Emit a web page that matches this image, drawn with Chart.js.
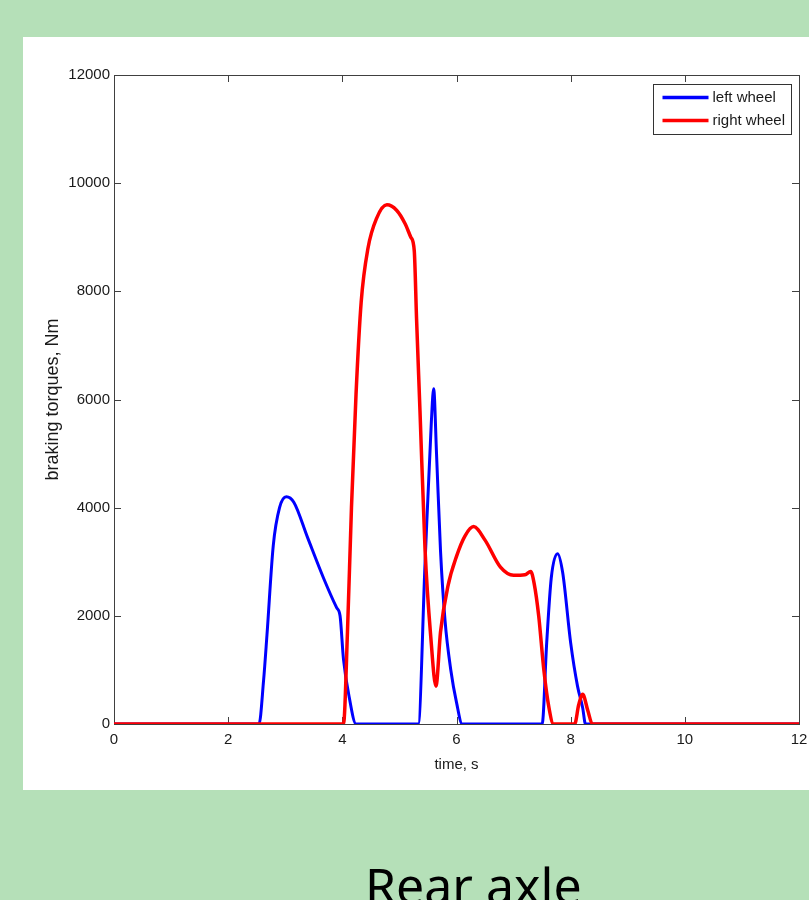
<!DOCTYPE html>
<html>
<head>
<meta charset="utf-8">
<title>Rear axle</title>
<script src="https://cdn.jsdelivr.net/npm/chart.js@4"></script>
<style>
    html, body {
        margin: 0;
        padding: 0;
        width: 809px;
        height: 900px;
        overflow: hidden;
        background: #b5e0b8;
    }
    #panel {
        position: absolute;
        left: 23px;
        top: 37px;
        width: 786px;
        height: 753px;
        background: #ffffff;
    }
    #torque-chart {
        display: block;
    }
    #caption {
        position: absolute;
        left: 365px;
        top: 860px;
        font-family: "Noto Sans", "Open Sans", sans-serif;
        font-size: 50px;
        line-height: 50px;
        color: #000;
        white-space: nowrap;
    }
</style>
</head>
<body>
<div id="panel"><canvas id="torque-chart" width="786" height="753"></canvas></div>
<div id="caption">Rear axle</div>

<script>
// Braking torque samples (time in s, torque in Nm)
const leftWheelTime = [0, 2.54, 2.62, 2.68, 2.79, 2.9, 3.02, 3.15, 3.39, 3.67, 3.9, 3.96, 4.02, 4.12, 4.24,
    5.33, 5.45, 5.56, 5.6, 5.65, 5.72, 5.8, 5.9, 6.0, 6.1, 7.5, 7.58, 7.66, 7.77, 7.86, 8.0, 8.12, 8.21, 8.26, 12];
const leftWheelTorque = [0, 0, 800, 1650, 3300, 4000, 4200, 4100, 3450, 2700, 2150, 2000, 1200, 500, 0,
    0, 3000, 5600, 6200, 5000, 3200, 1900, 1000, 400, 0, 0, 1500, 2700, 3150, 2800, 1500, 700, 300, 0, 0];

const rightWheelTime = [0, 4.02, 4.09, 4.16, 4.24, 4.33, 4.45, 4.6, 4.78, 4.95, 5.1, 5.2, 5.26, 5.3, 5.36, 5.45,
    5.55, 5.64, 5.72, 5.85, 6.0, 6.15, 6.3, 6.5, 6.77, 7.0, 7.2, 7.3, 7.36, 7.44, 7.53, 7.62, 7.7,
    8.07, 8.14, 8.21, 8.3, 8.38, 12];
const rightWheelTorque = [0, 0, 1700, 4000, 6100, 7800, 8800, 9350, 9600, 9500, 9250, 9000, 8750, 7500, 5800, 3200,
    1600, 700, 1700, 2550, 3100, 3480, 3650, 3400, 2900, 2750, 2760, 2820, 2600, 2000, 1000, 300, 0,
    0, 350, 550, 250, 0, 0];

const seriesLabels = ['left wheel', 'right wheel'];
const xTicks = [0, 2, 4, 6, 8, 10, 12];
const yTicks = [0, 2000, 4000, 6000, 8000, 10000, 12000];

const FONT = '"Liberation Sans", Arial, sans-serif';

function toPoints(xs, ys) {
    return xs.map((x, i) => ({ x: x, y: ys[i] }));
}

// MATLAB style box with inward ticks on all four sides
const frameTicks = {
    id: 'frameTicks',
    beforeDatasetsDraw(chart) {
        const { ctx, chartArea: a, scales } = chart;
        const len = 7;
        ctx.save();
        ctx.strokeStyle = '#404040';
        ctx.lineWidth = 1;
        ctx.beginPath();
        xTicks.forEach(v => {
            const px = Math.round(scales.x.getPixelForValue(v)) + 0.5;
            ctx.moveTo(px, a.bottom);
            ctx.lineTo(px, a.bottom - len);
            ctx.moveTo(px, a.top);
            ctx.lineTo(px, a.top + len);
        });
        yTicks.forEach(v => {
            const py = Math.round(scales.y.getPixelForValue(v)) + 0.5;
            ctx.moveTo(a.left, py);
            ctx.lineTo(a.left + len, py);
            ctx.moveTo(a.right, py);
            ctx.lineTo(a.right - len, py);
        });
        ctx.stroke();
        ctx.strokeRect(Math.round(a.left) + 0.5, Math.round(a.top) + 0.5,
            Math.round(a.right - a.left), Math.round(a.bottom - a.top));
        ctx.restore();
    }
};

// Legend box in the upper right corner of the axes
const cornerLegend = {
    id: 'cornerLegend',
    afterDraw(chart) {
        const { ctx, chartArea: a } = chart;
        const w = 138, h = 50;
        const left = Math.round(a.right - 8 - w) + 0.5;
        const top = Math.round(a.top + 9) + 0.5;
        ctx.save();
        ctx.fillStyle = '#ffffff';
        ctx.fillRect(left, top, w, h);
        ctx.strokeStyle = '#333333';
        ctx.lineWidth = 1;
        ctx.strokeRect(left, top, w, h);
        ctx.font = '15px ' + FONT;
        ctx.textBaseline = 'middle';
        chart.data.datasets.forEach((ds, i) => {
            const y = top + 13 + i * 23;
            ctx.strokeStyle = ds.borderColor;
            ctx.lineWidth = 3.5;
            ctx.beginPath();
            ctx.moveTo(left + 9, y);
            ctx.lineTo(left + 55, y);
            ctx.stroke();
            ctx.fillStyle = '#1a1a1a';
            ctx.fillText(ds.label, left + 59, y);
        });
        ctx.restore();
    }
};

const canvas = document.getElementById('torque-chart');

new Chart(canvas, {
    type: 'line',
    data: {
        datasets: [
            {
                label: seriesLabels[0],
                data: toPoints(leftWheelTime, leftWheelTorque),
                borderColor: '#0000ff',
                borderWidth: 3,
                pointRadius: 0,
                cubicInterpolationMode: 'monotone',
                order: 1
            },
            {
                label: seriesLabels[1],
                data: toPoints(rightWheelTime, rightWheelTorque),
                borderColor: '#ff0000',
                borderWidth: 3.5,
                pointRadius: 0,
                cubicInterpolationMode: 'monotone',
                order: 0
            }
        ]
    },
    options: {
        responsive: false,
        animation: false,
        events: [],
        layout: { padding: { top: 38, right: 10, left: 0, bottom: 0 } },
        plugins: {
            legend: { display: false },
            tooltip: { enabled: false }
        },
        scales: {
            x: {
                type: 'linear',
                min: 0,
                max: 12,
                afterFit: scale => {
                    scale.height = 66;
                    scale.paddingLeft = 0;
                    scale.paddingRight = 0;
                },
                afterBuildTicks: scale => { scale.ticks = xTicks.map(v => ({ value: v })); },
                grid: { display: false, drawTicks: false },
                border: { display: false },
                ticks: {
                    padding: 7,
                    color: '#1a1a1a',
                    maxRotation: 0,
                    callback: v => String(v),
                    font: { family: FONT, size: 15 }
                },
                title: {
                    display: true,
                    text: 'time, s',
                    color: '#1a1a1a',
                    padding: { top: 0, bottom: 16 },
                    font: { family: FONT, size: 15 }
                }
            },
            y: {
                type: 'linear',
                min: 0,
                max: 12000,
                afterFit: scale => { scale.width = 91; },
                afterBuildTicks: scale => { scale.ticks = yTicks.map(v => ({ value: v })); },
                grid: { display: false, drawTicks: false },
                border: { display: false },
                ticks: {
                    padding: 4,
                    color: '#1a1a1a',
                    callback: v => String(v),
                    font: { family: FONT, size: 15 }
                },
                title: {
                    display: true,
                    text: 'braking torques, Nm',
                    color: '#1a1a1a',
                    padding: { top: 19, bottom: 0 },
                    font: { family: FONT, size: 18 }
                }
            }
        }
    },
    plugins: [frameTicks, cornerLegend]
});
</script>
</body>
</html>
